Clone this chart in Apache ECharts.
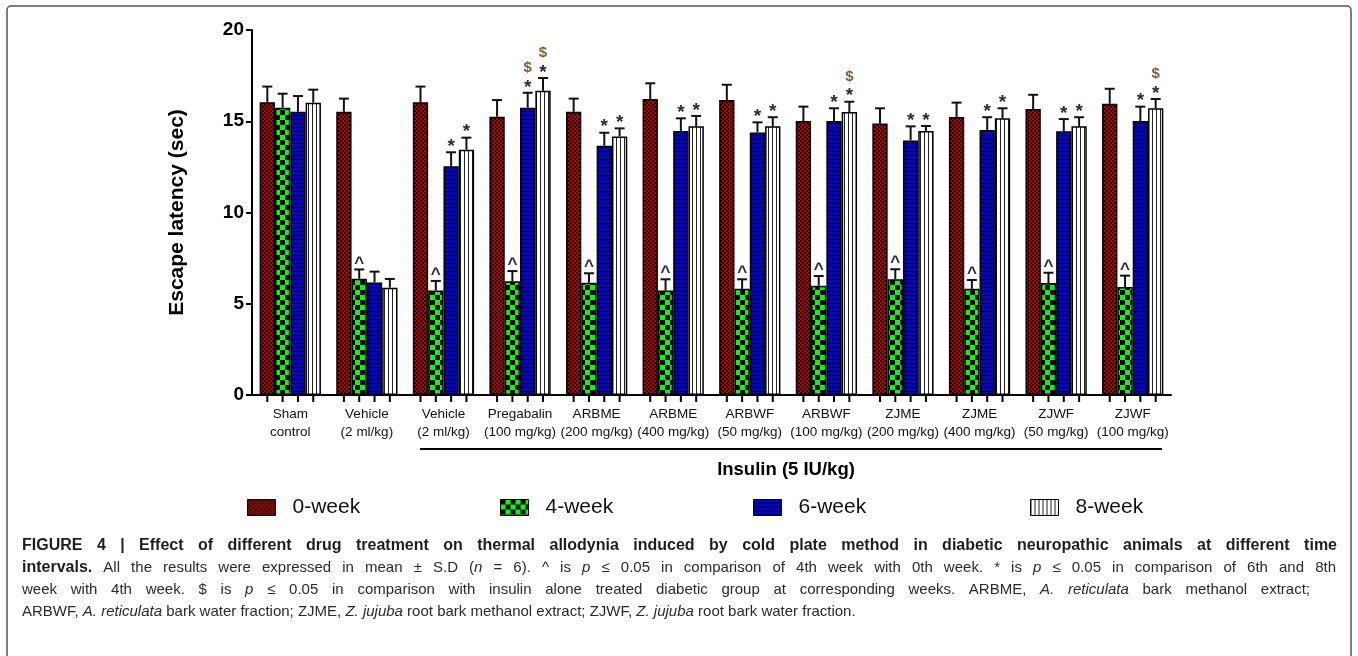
<!DOCTYPE html>
<html><head><meta charset="utf-8">
<script src="https://cdn.jsdelivr.net/npm/echarts@6/dist/echarts.min.js"></script>
<style>html,body{margin:0;padding:0;background:#fff}#c{width:1358px;height:656px}</style>
</head><body><div id="c"></div>
<script>
// ---- data ----
const categories = ['Sham\ncontrol','Vehicle\n(2 ml/kg)','Vehicle\n(2 ml/kg)','Pregabalin\n(100 mg/kg)','ARBME\n(200 mg/kg)','ARBME\n(400 mg/kg)','ARBWF\n(50 mg/kg)','ARBWF\n(100 mg/kg)','ZJME\n(200 mg/kg)','ZJME\n(400 mg/kg)','ZJWF\n(50 mg/kg)','ZJWF\n(100 mg/kg)'];
const seriesNames = ['0-week','4-week','6-week','8-week'];
const week0 = [16.04, 15.52, 16.04, 15.25, 15.52, 16.22, 16.16, 15.01, 14.87, 15.23, 15.67, 15.96];
const week0Err = [0.86, 0.72, 0.86, 0.91, 0.72, 0.86, 0.84, 0.79, 0.84, 0.79, 0.78, 0.82];
const week4 = [15.74, 6.37, 5.73, 6.23, 6.15, 5.72, 5.82, 5.99, 6.34, 5.82, 6.14, 5.92];
const week4Err = [0.77, 0.51, 0.52, 0.56, 0.52, 0.62, 0.52, 0.53, 0.55, 0.48, 0.56, 0.62];
const week6 = [15.52, 6.17, 12.53, 15.74, 13.66, 14.47, 14.39, 15.01, 13.95, 14.52, 14.45, 15.01];
const week6Err = [0.86, 0.59, 0.77, 0.82, 0.71, 0.69, 0.55, 0.70, 0.77, 0.70, 0.67, 0.79];
const week8 = [16.02, 5.88, 13.44, 16.67, 14.17, 14.72, 14.72, 15.51, 14.47, 15.16, 14.72, 15.71];
const week8Err = [0.71, 0.48, 0.66, 0.70, 0.44, 0.57, 0.50, 0.56, 0.27, 0.55, 0.50, 0.51];
const sig0 = ['','','','','','','','','','','',''];
const sig4 = ['','^','^','^','^','^','^','^','^','^','^','^'];
const sig6 = ['','','*','$*','*','*','*','*','*','*','*','*'];
const sig8 = ['','','*','$*','*','*','*','$*','*','*','*','$*'];
const yTicks = [0, 5, 10, 15, 20];
const groupLabel = 'Insulin (5 IU/kg)';
const captionLines = [
  [['b','FIGURE 4 | Effect of different drug treatment on thermal allodynia induced by cold plate method in diabetic neuropathic animals at different time']],
  [['b','intervals.'],['r',' All the results were expressed in mean ± S.D ('],['i','n'],['r',' = 6). ^ is '],['i','p'],['r',' ≤ 0.05 in comparison of 4th week with 0th week. * is '],['i','p'],['r',' ≤ 0.05 in comparison of 6th and 8th']],
  [['r','week with 4th week. $ is '],['i','p'],['r',' ≤ 0.05 in comparison with insulin alone treated diabetic group at corresponding weeks. ARBME, '],['i','A. reticulata'],['r',' bark methanol extract;']],
  [['r','ARBWF, '],['i','A. reticulata'],['r',' bark water fraction; ZJME, '],['i','Z. jujuba'],['r',' root bark methanol extract; ZJWF, '],['i','Z. jujuba'],['r',' root bark water fraction.']]
];

const FONT = 'Liberation Sans, Arial, sans-serif';

// ---- patterns ----
function pat(w, h, draw){const c=document.createElement('canvas');c.width=w;c.height=h;const g=c.getContext('2d');draw(g);return {image:c,repeat:'repeat'};}
const redPat = pat(4,4,g=>{g.fillStyle='#b80000';g.fillRect(0,0,4,4);g.fillStyle='#1a0000';g.fillRect(0,0,2,2);g.fillRect(2,2,2,2);});
const greenPat = pat(10,10,g=>{g.fillStyle='#00ff00';g.fillRect(0,0,10,10);g.fillStyle='#000';g.fillRect(0,0,5,5);g.fillRect(5,5,5,5);});
const bluePat = pat(4,4,g=>{g.fillStyle='#0000d0';g.fillRect(0,0,4,4);g.fillStyle='#000';g.fillRect(0,3,4,1);});
const whitePat = pat(4,4,g=>{g.fillStyle='#fff';g.fillRect(0,0,4,4);g.fillStyle='#222';g.fillRect(0,0,1,4);});
const patterns = [redPat, greenPat, bluePat, whitePat];

const vals = [week0, week4, week6, week8];
const errs = [week0Err, week4Err, week6Err, week8Err];
const sigs = [sig0, sig4, sig6, sig8];

// ---- caption layout (justified) ----
const mctx = document.createElement('canvas').getContext('2d');
const capFonts = {b:'bold 16px '+FONT, r:'15px '+FONT, i:'italic 15px '+FONT};
const capFill = {b:'#1e1e1e', r:'#2a2a2a', i:'#2a2a2a'};
function measure(t,f){mctx.font=f;return mctx.measureText(t).width;}
function captionGraphics(parts, x0, x1, y, justify){
  const words=[]; let cur=null;
  parts.forEach(([st,txt])=>{
    const bits=txt.split(' ');
    bits.forEach((b,j)=>{
      if(j>0){ if(cur && cur.length) words.push(cur); cur=[]; }
      if(!cur) cur=[];
      if(b.length) cur.push([st,b]);
    });
  });
  if(cur && cur.length) words.push(cur);
  const widths = words.map(w=>w.reduce((s,[st,t])=>s+measure(t,capFonts[st]),0));
  const total = widths.reduce((a,b)=>a+b,0);
  const gap = justify ? (x1-x0-total)/(words.length-1) : measure(' ',capFonts.r);
  const out=[]; let x=x0;
  words.forEach((w,wi)=>{
    let xx=x;
    w.forEach(([st,t])=>{
      out.push({type:'text',x:xx,y:y,silent:true,style:{text:t,font:capFonts[st],fill:capFill[st],verticalAlign:'middle'}});
      xx+=measure(t,capFonts[st]);
    });
    x+=widths[wi]+gap;
  });
  return out;
}
const capGraphics = [].concat(
  captionGraphics(captionLines[0],22,1337,546,true),
  captionGraphics(captionLines[1],22,1336,568,true),
  captionGraphics(captionLines[2],22,1310,590,true),
  captionGraphics(captionLines[3],22,0,612,false)
);

const chart = echarts.init(document.getElementById('c'));
function barOffset(api, k){const band=api.size([1,0])[0];const bw=band*0.8/4;return (k-1.5)*bw;}

const errData=[]; const sigData=[]; const sigText=[];
for(let k=0;k<4;k++){for(let i=0;i<categories.length;i++){
  errData.push([i,k,vals[k][i],errs[k][i]]);
  if(sigs[k][i]){ sigData.push([i,k,vals[k][i]+errs[k][i]]); sigText.push(sigs[k][i]); }
}}

const barSeries = seriesNames.map((n,k)=>({
  name:n, type:'bar', data:vals[k], barGap:'0%', barCategoryGap:'20%',
  itemStyle:{color:patterns[k], borderColor:'#000', borderWidth:1.5},
  emphasis:{disabled:true}, z:2
}));

const option = {
  animation:false,
  grid:{left:252, right:187, top:30, bottom:261, containLabel:false},
  legend: [
    {data:['0-week'], left:247},
    {data:['4-week'], left:500},
    {data:['6-week'], left:753},
    {data:['8-week'], left:1030}
  ].map(l=>Object.assign(l,{top:497,padding:0,itemWidth:28,itemHeight:16,icon:'rect',selectedMode:false,
      textStyle:{fontFamily:FONT,fontSize:21,color:'#111',padding:[0,0,0,12]},
      itemStyle:{borderColor:'#000',borderWidth:1}})),
  xAxis:{type:'category', data:categories,
    axisLine:{lineStyle:{color:'#000',width:2}}, axisTick:{show:false},
    axisLabel:{fontFamily:FONT,fontSize:13.5,color:'#111',lineHeight:18,margin:10,interval:0}},
  yAxis:{type:'value', min:0, max:20, interval:5,
    name:'Escape latency (sec)', nameLocation:'middle', nameGap:64,
    nameTextStyle:{fontFamily:FONT,fontSize:21,fontWeight:'bold',color:'#000'},
    axisLine:{show:true,lineStyle:{color:'#000',width:2}},
    axisTick:{show:true,length:6,lineStyle:{color:'#000',width:2}},
    axisLabel:{fontFamily:FONT,fontSize:19,fontWeight:'bold',color:'#000',margin:8,
      formatter:v=>yTicks.indexOf(v)>=0?String(v):''},
    splitLine:{show:false}},
  series:[...barSeries,
    {type:'custom', z:5, data:errData, silent:true,
     renderItem:(p,api)=>{const i=api.value(0),k=api.value(1),v=api.value(2),e=api.value(3);
       const off=barOffset(api,k); const b=api.coord([i,v]); const t=api.coord([i,v+e]); const x=b[0]+off;
       return {type:'group',children:[
         {type:'line',shape:{x1:x,y1:b[1],x2:x,y2:t[1]},style:{stroke:'#111',lineWidth:2}},
         {type:'line',shape:{x1:x-5,y1:t[1],x2:x+5,y2:t[1]},style:{stroke:'#111',lineWidth:2}}]};}},
    {type:'custom', z:5, data:sigData, silent:true,
     renderItem:(p,api)=>{const i=api.value(0),k=api.value(1),v=api.value(2);const s=sigText[p.dataIndex];
       const off=barOffset(api,k); const t=api.coord([i,v]); const x=t[0]+off; const ch=[];
       if(s.indexOf('^')>=0) ch.push({type:'text',style:{text:'^',x:x,y:t[1]-15,align:'center',verticalAlign:'top',font:'bold 17px '+FONT,fill:'#2a2a3a'}});
       if(s.indexOf('*')>=0) ch.push({type:'text',style:{text:'*',x:x,y:t[1]-15,align:'center',verticalAlign:'top',font:'bold 19px '+FONT,fill:'#2a2a40'}});
       if(s.indexOf('$')>=0) ch.push({type:'text',style:{text:'$',x:x,y:t[1]-25,align:'center',verticalAlign:'middle',font:'bold 15px '+FONT,fill:'#7a6236'}});
       return {type:'group',children:ch};}},
    {type:'custom', z:5, data:categories.map((c,i)=>[i,0]), silent:true,
     renderItem:(p,api)=>{const i=api.value(0); const b=api.coord([i,0]); const ch=[];
       for(let k=0;k<4;k++){const x=b[0]+barOffset(api,k); ch.push({type:'line',shape:{x1:x,y1:b[1],x2:x,y2:b[1]+7},style:{stroke:'#000',lineWidth:2}});}
       return {type:'group',children:ch};}}
  ],
  graphic:[
    {type:'rect',shape:{x:7,y:6,width:1344,height:700,r:4},style:{fill:'none',stroke:'#555',lineWidth:1.5},silent:true},
    {type:'line',shape:{x1:420,y1:449,x2:1162,y2:449},style:{stroke:'#000',lineWidth:2},silent:true},
    {type:'text',x:786,y:470,style:{text:groupLabel,align:'center',verticalAlign:'middle',font:'bold 18.5px '+FONT,fill:'#000'},silent:true}
  ].concat(capGraphics)
};
chart.setOption(option);
</script></body></html>
